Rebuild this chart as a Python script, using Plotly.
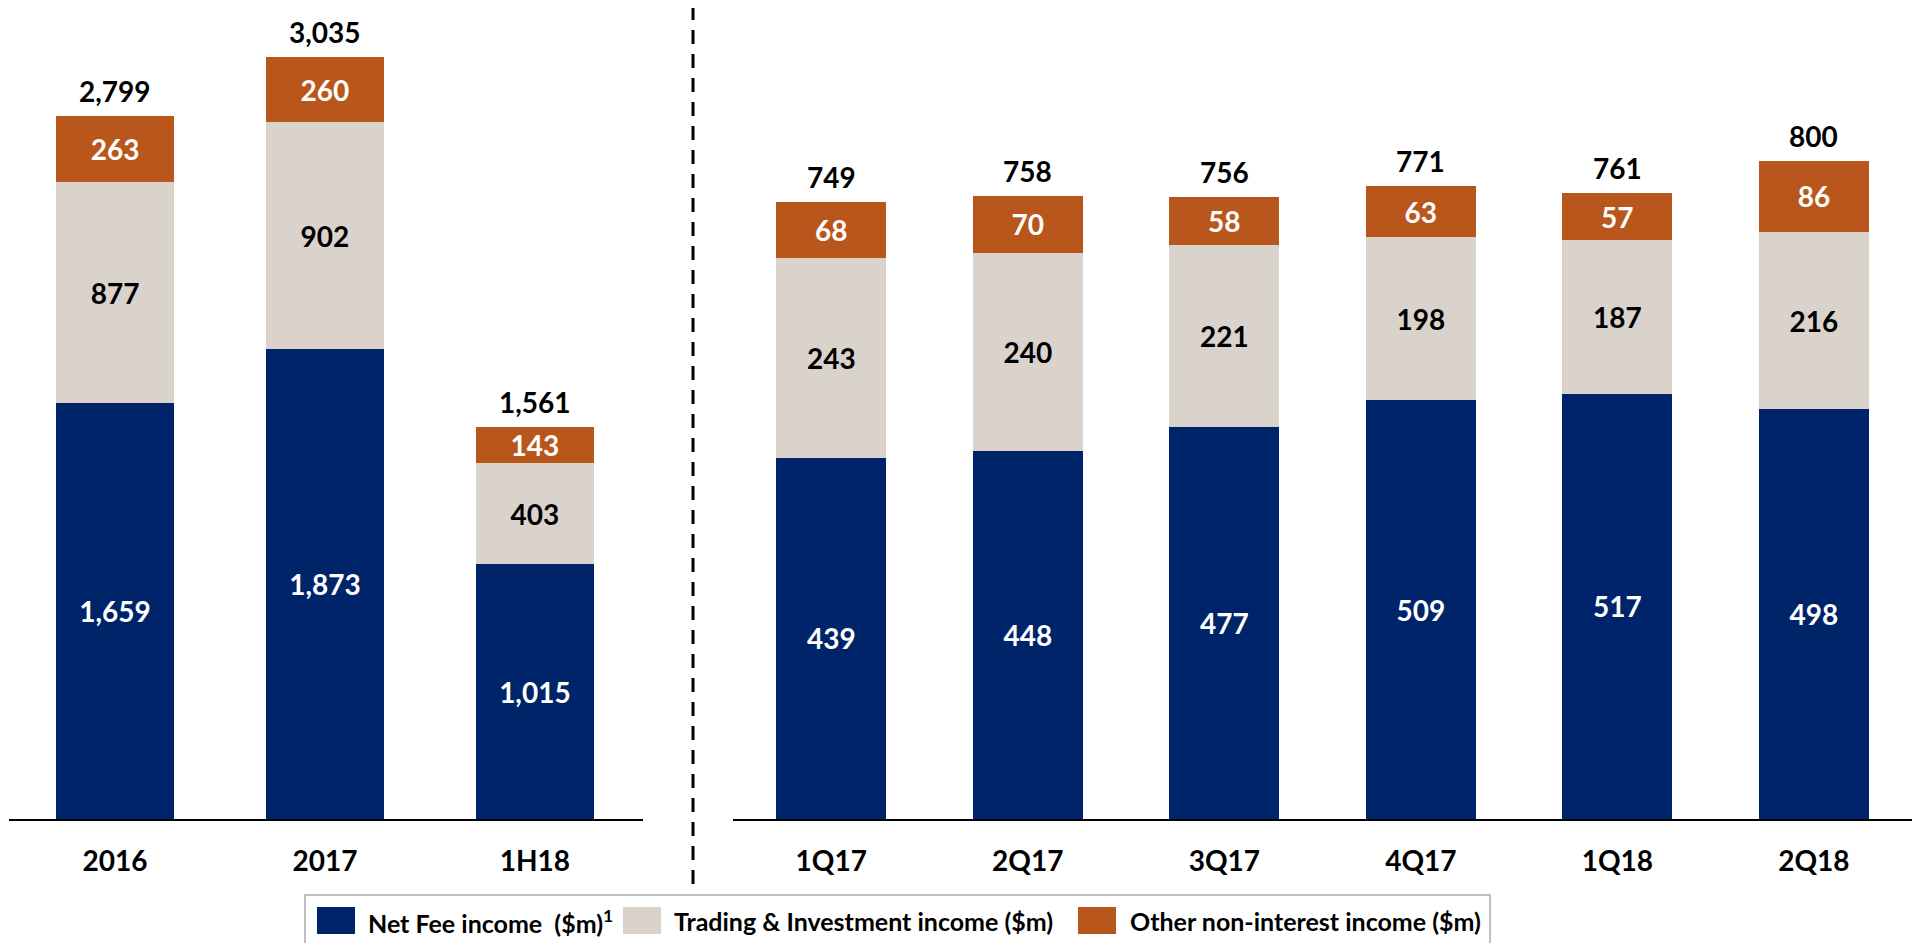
import plotly.graph_objects as go

# ── data ──────────────────────────────────────────────────────────────────────
annual_cats     = ["2016", "2017", "1H18"]
annual_fee      = [1659, 1873, 1015]
annual_trading  = [877, 902, 403]
annual_other    = [263, 260, 143]
annual_total    = [2799, 3035, 1561]

quarter_cats    = ["1Q17", "2Q17", "3Q17", "4Q17", "1Q18", "2Q18"]
quarter_fee     = [439, 448, 477, 509, 517, 498]
quarter_trading = [243, 240, 221, 198, 187, 216]
quarter_other   = [68, 70, 58, 63, 57, 86]
quarter_total   = [749, 758, 756, 771, 761, 800]

series_names = ["Net Fee income  ($m)<sup>1</sup>",
                "Trading & Investment income ($m)",
                "Other non-interest income ($m)"]

NAVY   = "#002469"
GREY   = "#D9D3CC"
ORANGE = "#B9561B"
colors      = [NAVY, GREY, ORANGE]
text_colors = ["#ffffff", "#000000", "#ffffff"]

FONT = "Lato, 'Open Sans', sans-serif"

# page body has an 8px margin, so the figure is offset by that much
OFF = 8
W, H = 1920 - OFF, 943 - OFF


def px(x):
    return (x - OFF) / W


def py(y):
    return 1 - (y - OFF) / H


fig = go.Figure()

panels = [
    (annual_cats, [annual_fee, annual_trading, annual_other], annual_total, "x", "y", 0.562),
    (quarter_cats, [quarter_fee, quarter_trading, quarter_other], quarter_total, "x2", "y2", 0.56),
]

for cats, stacks, totals, xa, ya, bw in panels:
    for vals, name, col, tcol in zip(stacks, series_names, colors, text_colors):
        fig.add_trace(go.Bar(
            x=cats, y=vals, name=name,
            marker=dict(color=col, line_width=0),
            width=bw,
            text=[f"{v:,}" for v in vals],
            textposition="inside", insidetextanchor="middle",
            textangle=0, constraintext="none",
            insidetextfont=dict(family=FONT, size=28, color=tcol, weight="bold"),
            xaxis=xa, yaxis=ya, showlegend=False,
        ))
    # totals on top of each stack (x by index: "2016" would be read as a number)
    for i in range(len(cats)):
        top = sum(s[i] for s in stacks)
        fig.add_annotation(
            x=i, y=top, xref=xa, yref=ya,
            text=f"{totals[i]:,}", showarrow=False,
            yanchor="middle", yshift=25,
            font=dict(family=FONT, size=28, color="#000000", weight="bold"),
        )

axis_common = dict(
    type="category",
    showline=True, linecolor="#000000", linewidth=2,
    showgrid=False, zeroline=False, ticks="",
    tickfont=dict(family=FONT, size=28, color="#000000", weight="bold"),
    ticklabelstandoff=16, fixedrange=True,
)
yaxis_common = dict(visible=False, showgrid=False, zeroline=False, fixedrange=True)

AXIS_Y = 819          # pixel row of the baseline
TOP_Y = OFF           # top of plot area
left_scale = 0.251    # px per $m, annual panel
right_scale = 0.8225  # px per $m, quarterly panel
plot_h = AXIS_Y - TOP_Y

fig.update_layout(
    barmode="stack",
    width=W, height=H,
    margin=dict(l=0, r=0, t=0, b=0),
    paper_bgcolor="#ffffff", plot_bgcolor="#ffffff",
    xaxis=dict(domain=[px(9), px(643)], range=[-0.505, 2.515], anchor="y", **axis_common),
    yaxis=dict(domain=[py(AXIS_Y), 1], range=[0, plot_h / left_scale], anchor="x", **yaxis_common),
    xaxis2=dict(domain=[px(733), 1.0], range=[-0.5, 5.54], anchor="y2", **axis_common),
    yaxis2=dict(domain=[py(AXIS_Y), 1], range=[0, plot_h / right_scale], anchor="x2", **yaxis_common),
)

# ── separator between annual and quarterly panels ────────────────────────────
fig.add_shape(type="line", xref="paper", yref="paper",
              x0=px(693), x1=px(693), y0=py(884), y1=1.02,
              line=dict(color="#000000", width=3, dash="14px,10px"))

# ── legend (drawn by hand to get large swatches) ─────────────────────────────
fig.add_shape(type="rect", xref="paper", yref="paper",
              x0=px(305), x1=px(1490), y0=-0.05, y1=py(895),
              line=dict(color="#BFBFBF", width=2), fillcolor="rgba(0,0,0,0)")

legend_pos = [(317, 366), (623, 672), (1078, 1128)]
for (sx, tx), name, col in zip(legend_pos, series_names, colors):
    fig.add_shape(type="rect", xref="paper", yref="paper",
                  x0=px(sx), x1=px(sx + 38), y0=py(934), y1=py(907),
                  line_width=0, fillcolor=col)
    fig.add_annotation(x=px(tx), y=py(921), xref="paper", yref="paper",
                       text=name, showarrow=False, xanchor="left", yanchor="middle",
                       font=dict(family=FONT, size=25, color="#000000", weight="bold"))

fig.write_html("out.html")
